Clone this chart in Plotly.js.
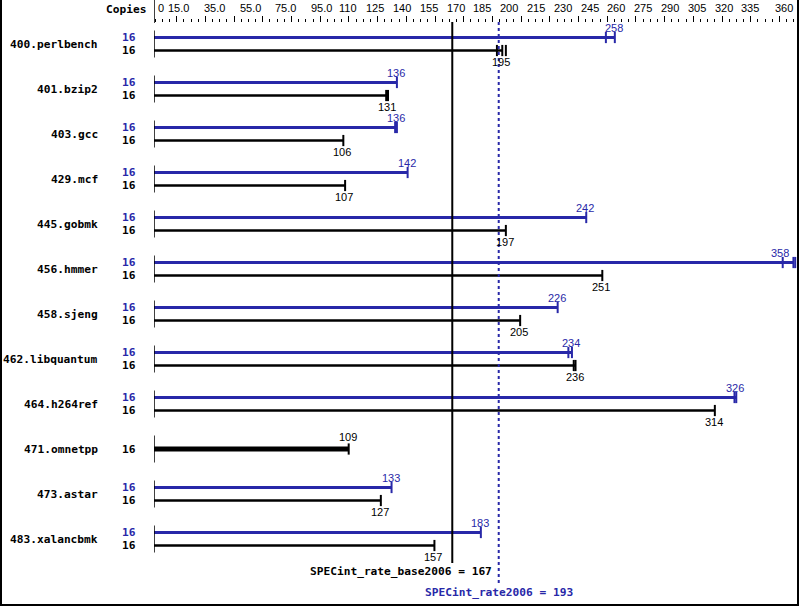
<!DOCTYPE html>
<html>
<head>
<meta charset="utf-8">
<script src="https://cdn.plot.ly/plotly-3.0.1.min.js"></script>
<style>
  html, body { margin: 0; padding: 0; background: #fff; }
  #frame { position: absolute; left: 0; top: 0; width: 799px; height: 606px; box-sizing: border-box;
           border-left: 2px solid #000; border-right: 2px solid #000; border-bottom: 2px solid #000; }
  #chart { width: 795px; height: 604px; }
</style>
</head>
<body>
<div id="frame"><div id="chart"></div></div>
<script>
// ---------------- data ----------------
const benchmarks = ["400.perlbench", "401.bzip2", "403.gcc", "429.mcf", "445.gobmk", "456.hmmer",
                    "458.sjeng", "462.libquantum", "464.h264ref", "471.omnetpp", "473.astar", "483.xalancbmk"];
const peakValues = [258, 136, 136, 142, 242, 358, 226, 234, 326, null, 133, 183];
const baseValues = [195, 131, 106, 107, 197, 251, 205, 236, 314, 109, 127, 157];
const peakRuns = [[253, 258], [136], [135, 136], [142], [242], [352, 358, 359], [226], [232, 234], [325, 326], [], [133], [183]];
const baseRuns = [[192, 195, 197], [130, 131], [106], [107], [197], [251], [205], [235, 236], [314], [109], [127], [157]];
const copiesPeak = [16, 16, 16, 16, 16, 16, 16, 16, 16, null, 16, 16];
const copiesBase = [16, 16, 16, 16, 16, 16, 16, 16, 16, 16, 16, 16];
const tickValues = [0, 15, 35, 55, 75, 95, 110, 125, 140, 155, 170, 185, 200, 215, 230, 245, 260, 275, 290, 305, 320, 335, 360];
const tickLabels = ["0", "15.0", "35.0", "55.0", "75.0", "95.0", "110", "125", "140", "155", "170", "185",
                    "200", "215", "230", "245", "260", "275", "290", "305", "320", "335", "360"];
const baseMetric = "SPECint_rate_base2006";
const peakMetric = "SPECint_rate2006";
const baseScore = 167;
const peakScore = 193;
const axisMax = 360;

// ---------------- style / geometry ----------------
const BLUE = "#2828a8";
const BLACK = "#000000";
const ROW_PX = 45;
const PLOT_W = 643, PLOT_H = 540;
const pairOff = 6.5 / ROW_PX;
const monoBold = { family: "DejaVu Sans Mono", size: 11.2, weight: "bold" };
const numFont = { family: "Liberation Sans, Arial", size: 11 };

const n = benchmarks.length;
const peakY = benchmarks.map((b, i) => peakValues[i] == null ? null : i - pairOff);
const baseY = benchmarks.map((b, i) => peakValues[i] == null ? i : i + pairOff);
const baseWidths = benchmarks.map((b, i) => (peakValues[i] == null ? 5 : 2.6) / ROW_PX);

const traces = [
  { type: "bar", orientation: "h", x: peakValues, y: peakY, width: 2.8 / ROW_PX,
    marker: { color: BLUE, line: { width: 0 } }, hoverinfo: "skip" },
  { type: "bar", orientation: "h", x: baseValues, y: baseY, width: baseWidths,
    marker: { color: BLACK, line: { width: 0 } }, hoverinfo: "skip" }
];

function capTrace(runs, ys, color) {
  const xs = [], yy = [];
  runs.forEach((r, i) => { if (ys[i] == null) return; r.forEach(v => { xs.push(v); yy.push(ys[i]); }); });
  return { type: "scatter", mode: "markers", x: xs, y: yy, hoverinfo: "skip",
           marker: { symbol: "line-ns", size: 8, color: color, line: { width: 2, color: color } } };
}
traces.push(capTrace(peakRuns, peakY, BLUE));
traces.push(capTrace(baseRuns, baseY, BLACK));

const annotations = [];
const shapes = [];

// axis tick labels (top)
tickValues.forEach((v, k) => {
  const first = k === 0, last = k === tickValues.length - 1;
  annotations.push({ text: tickLabels[k], x: v, xref: "x", y: 1, yref: "paper", yanchor: "middle",
    yshift: 15, xanchor: first ? "left" : (last ? "right" : "center"), xshift: first ? 2 : -2,
    showarrow: false, font: Object.assign({ color: BLACK }, numFont) });
});
annotations.push({ text: "Copies", x: -6 / PLOT_W, xref: "paper", xanchor: "right", y: 1, yref: "paper",
  yanchor: "middle", yshift: 14, showarrow: false, font: Object.assign({ color: BLACK }, monoBold) });

benchmarks.forEach((b, i) => {
  annotations.push({ text: b, x: -54 / PLOT_W, xref: "paper", xanchor: "right", y: i, yref: "y",
    yanchor: "middle", showarrow: false, font: Object.assign({ color: BLACK }, monoBold) });
  if (peakValues[i] != null) {
    annotations.push({ text: String(copiesPeak[i]), x: -16 / PLOT_W, xref: "paper", xanchor: "right", y: peakY[i],
      yref: "y", yanchor: "middle", showarrow: false, font: Object.assign({ color: BLUE }, monoBold) });
    annotations.push({ text: String(peakValues[i]), x: peakValues[i], xref: "x",
      xanchor: peakValues[i] > axisMax - 10 ? "right" : "center", xshift: peakValues[i] > axisMax - 10 ? -2 : -1,
      y: peakY[i], yref: "y", yanchor: "middle", yshift: 10, showarrow: false,
      font: Object.assign({ color: BLUE }, numFont) });
    annotations.push({ text: String(baseValues[i]), x: baseValues[i], xref: "x", xanchor: "center", xshift: -1,
      y: baseY[i], yref: "y", yanchor: "middle", yshift: -11, showarrow: false,
      font: Object.assign({ color: BLACK }, numFont) });
  } else {
    annotations.push({ text: String(baseValues[i]), x: baseValues[i], xref: "x", xanchor: "center", xshift: -1,
      y: baseY[i], yref: "y", yanchor: "middle", yshift: 12, showarrow: false,
      font: Object.assign({ color: BLACK }, numFont) });
  }
  annotations.push({ text: String(copiesBase[i]), x: -16 / PLOT_W, xref: "paper", xanchor: "right", y: baseY[i],
    yref: "y", yanchor: "middle", showarrow: false, font: Object.assign({ color: BLACK }, monoBold) });
  const half = 13.5 / ROW_PX;
  shapes.push({ type: "line", xref: "x", yref: "y", x0: 0, x1: 0, y0: i - half, y1: i + half,
    line: { color: BLACK, width: 1.5 } });
});

// zero axis segment in header
shapes.push({ type: "line", xref: "x", yref: "paper", x0: 0, x1: 0, y0: 1, y1: 1 + 23 / PLOT_H,
  line: { color: BLACK, width: 1.5 } });
// overall score lines
shapes.push({ type: "line", xref: "x", yref: "paper", x0: baseScore, x1: baseScore, y0: 0, y1: 1.002,
  line: { color: BLACK, width: 2 } });
shapes.push({ type: "line", xref: "x", yref: "paper", x0: peakScore, x1: peakScore, y0: -20 / PLOT_H, y1: 1.002,
  line: { color: BLUE, width: 2, dash: "dot" } });

annotations.push({ text: baseMetric + " = " + baseScore, x: baseScore, xref: "x", xanchor: "right", xshift: 42,
  y: 0, yref: "paper", yanchor: "middle", yshift: -8, showarrow: false,
  font: Object.assign({ color: BLACK }, monoBold) });
annotations.push({ text: peakMetric + " = " + peakScore, x: peakScore, xref: "x", xanchor: "center",
  y: 0, yref: "paper", yanchor: "middle", yshift: -29, showarrow: false,
  font: Object.assign({ color: BLUE }, monoBold) });

const layout = {
  width: 795, height: 604, autosize: false,
  margin: { l: 152, r: 0, t: 23, b: 41, pad: 0 },
  paper_bgcolor: "#ffffff", plot_bgcolor: "#ffffff",
  showlegend: false, barmode: "overlay", hovermode: false,
  xaxis: { range: [0, axisMax], side: "top", showgrid: false, zeroline: false, showline: false,
    tickmode: "linear", tick0: 12.7, dtick: 16.07, ticks: "outside", ticklen: 6, tickwidth: 1, tickcolor: BLACK,
    showticklabels: false, fixedrange: true,
    minor: { tick0: 12.7, dtick: 16.07 / 4, ticks: "outside", ticklen: 3, tickwidth: 1, tickcolor: BLACK, showgrid: false } },
  yaxis: { range: [n - 0.467, -0.467], showgrid: false, zeroline: false, showline: false,
    showticklabels: false, ticks: "", fixedrange: true },
  shapes: shapes,
  annotations: annotations
};

Plotly.newPlot("chart", traces, layout, { displayModeBar: false, staticPlot: true });
</script>
</body>
</html>
